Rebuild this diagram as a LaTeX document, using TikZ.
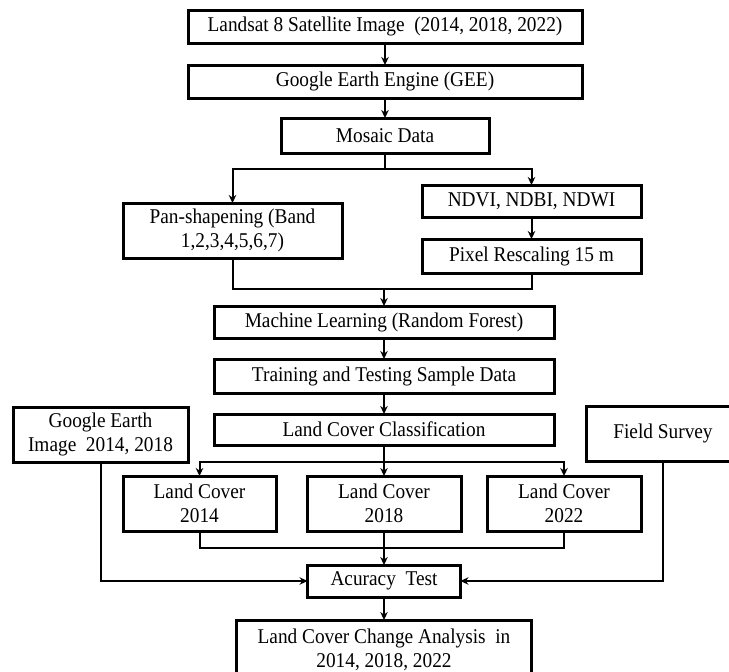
\documentclass[tikz,border=0pt]{standalone}
\usepackage{fontspec}
\setmainfont{Liberation Serif}[FakeStretch=0.92]
\usepackage{tikz}
\usetikzlibrary{arrows.meta,positioning}

\begin{document}
\begin{tikzpicture}[
  x=1pt, y=-1pt,
  node distance=21pt and 28pt,
  box/.style={draw, line width=3pt, outer sep=0pt, align=center, inner sep=2pt,
    font=\fontsize{21}{23.5}\selectfont},
  arr/.style={-{Stealth[length=8pt, width=7.5pt]}, line width=2pt},
  ln/.style={line width=2pt},
]
\useasboundingbox (0,0) rectangle (729,672);
\node[box, minimum width=394pt, minimum height=33pt] (lsat) at (385,26.5) {Landsat 8 Satellite Image~ (2014, 2018, 2022)};
\node[box, minimum width=394pt, minimum height=33pt, below=22pt of lsat] (gee) {Google Earth Engine (GEE)};
\node[box, minimum width=208pt, minimum height=35pt, below=20pt of gee] (mos) {Mosaic Data};
\node[box, minimum width=219pt, minimum height=55pt] (pan) at (232.5,230.5) {Pan-shapening (Band\\1,2,3,4,5,6,7)};
\node[box, minimum width=219pt, minimum height=32pt] (ndvi) at (531.5,201) {NDVI, NDBI, NDWI};
\node[box, minimum width=219pt, minimum height=34pt, below=22pt of ndvi] (pix) {Pixel Rescaling 15 m};
\node[box, minimum width=340pt, minimum height=32pt] (ml) at (384,322) {Machine Learning (Random Forest)};
\node[box, minimum width=340pt, minimum height=34pt, below=of ml] (trn) {Training and Testing Sample Data};
\node[box, minimum width=340pt, minimum height=31pt, below=of trn] (lcc) {Land Cover Classification};
\node[box, minimum width=175pt, minimum height=55pt] (ge) at (100.5,434.5) {Google Earth\\Image~ 2014, 2018};
\node[box, minimum width=154pt, minimum height=55pt] (fs) at (663,433.5) {Field Survey};
\node[box, minimum width=154pt, minimum height=55pt] (lc18) at (384,503.5) {Land Cover\\2018};
\node[box, minimum width=153pt, minimum height=55pt, left=31pt of lc18] (lc14) {Land Cover\\2014};
\node[box, minimum width=154pt, minimum height=55pt, right=26pt of lc18] (lc22) {Land Cover\\2022};
\node[box, minimum width=153pt, minimum height=32pt, below=34pt of lc18] (acc) {Acuracy~ Test};
\node[box, minimum width=295pt, minimum height=60pt, below=23pt of acc] (fin) {Land Cover Change Analysis~ in\\2014, 2018, 2022};
\coordinate (j1) at (0,169);
\coordinate (j2) at (0,289);
\coordinate (j3) at (0,462);
\coordinate (j4) at (0,548);
\draw[arr] (lsat) -- (gee);
\draw[arr] (gee) -- (mos);
\draw[arr] (mos.south) -- (mos.south |- j1) -| (pan.north);
\draw[arr] (mos.south) -- (mos.south |- j1) -| (ndvi.north);
\draw[arr] (ndvi) -- (pix);
\draw[ln] (pan.south) |- (pix.south |- j2) -- (pix.south);
\draw[arr] (ml.north |- j2) -- (ml.north);
\draw[arr] (ml) -- (trn);
\draw[arr] (trn) -- (lcc);
\draw[arr] (lcc.south) -- (lcc.south |- j3) -| (lc14.north);
\draw[arr] (lcc.south) -- (lcc.south |- j3) -| (lc22.north);
\draw[arr] (lcc.south) -- (lc18.north);
\draw[ln] (lc14.south) |- (lc22.south |- j4) -- (lc22.south);
\draw[arr] (lc18) -- (acc);
\draw[arr] (ge.south) |- (acc.west);
\draw[arr] (fs.south) |- (acc.east);
\draw[arr] (acc) -- (fin);
\end{tikzpicture}
\end{document}
